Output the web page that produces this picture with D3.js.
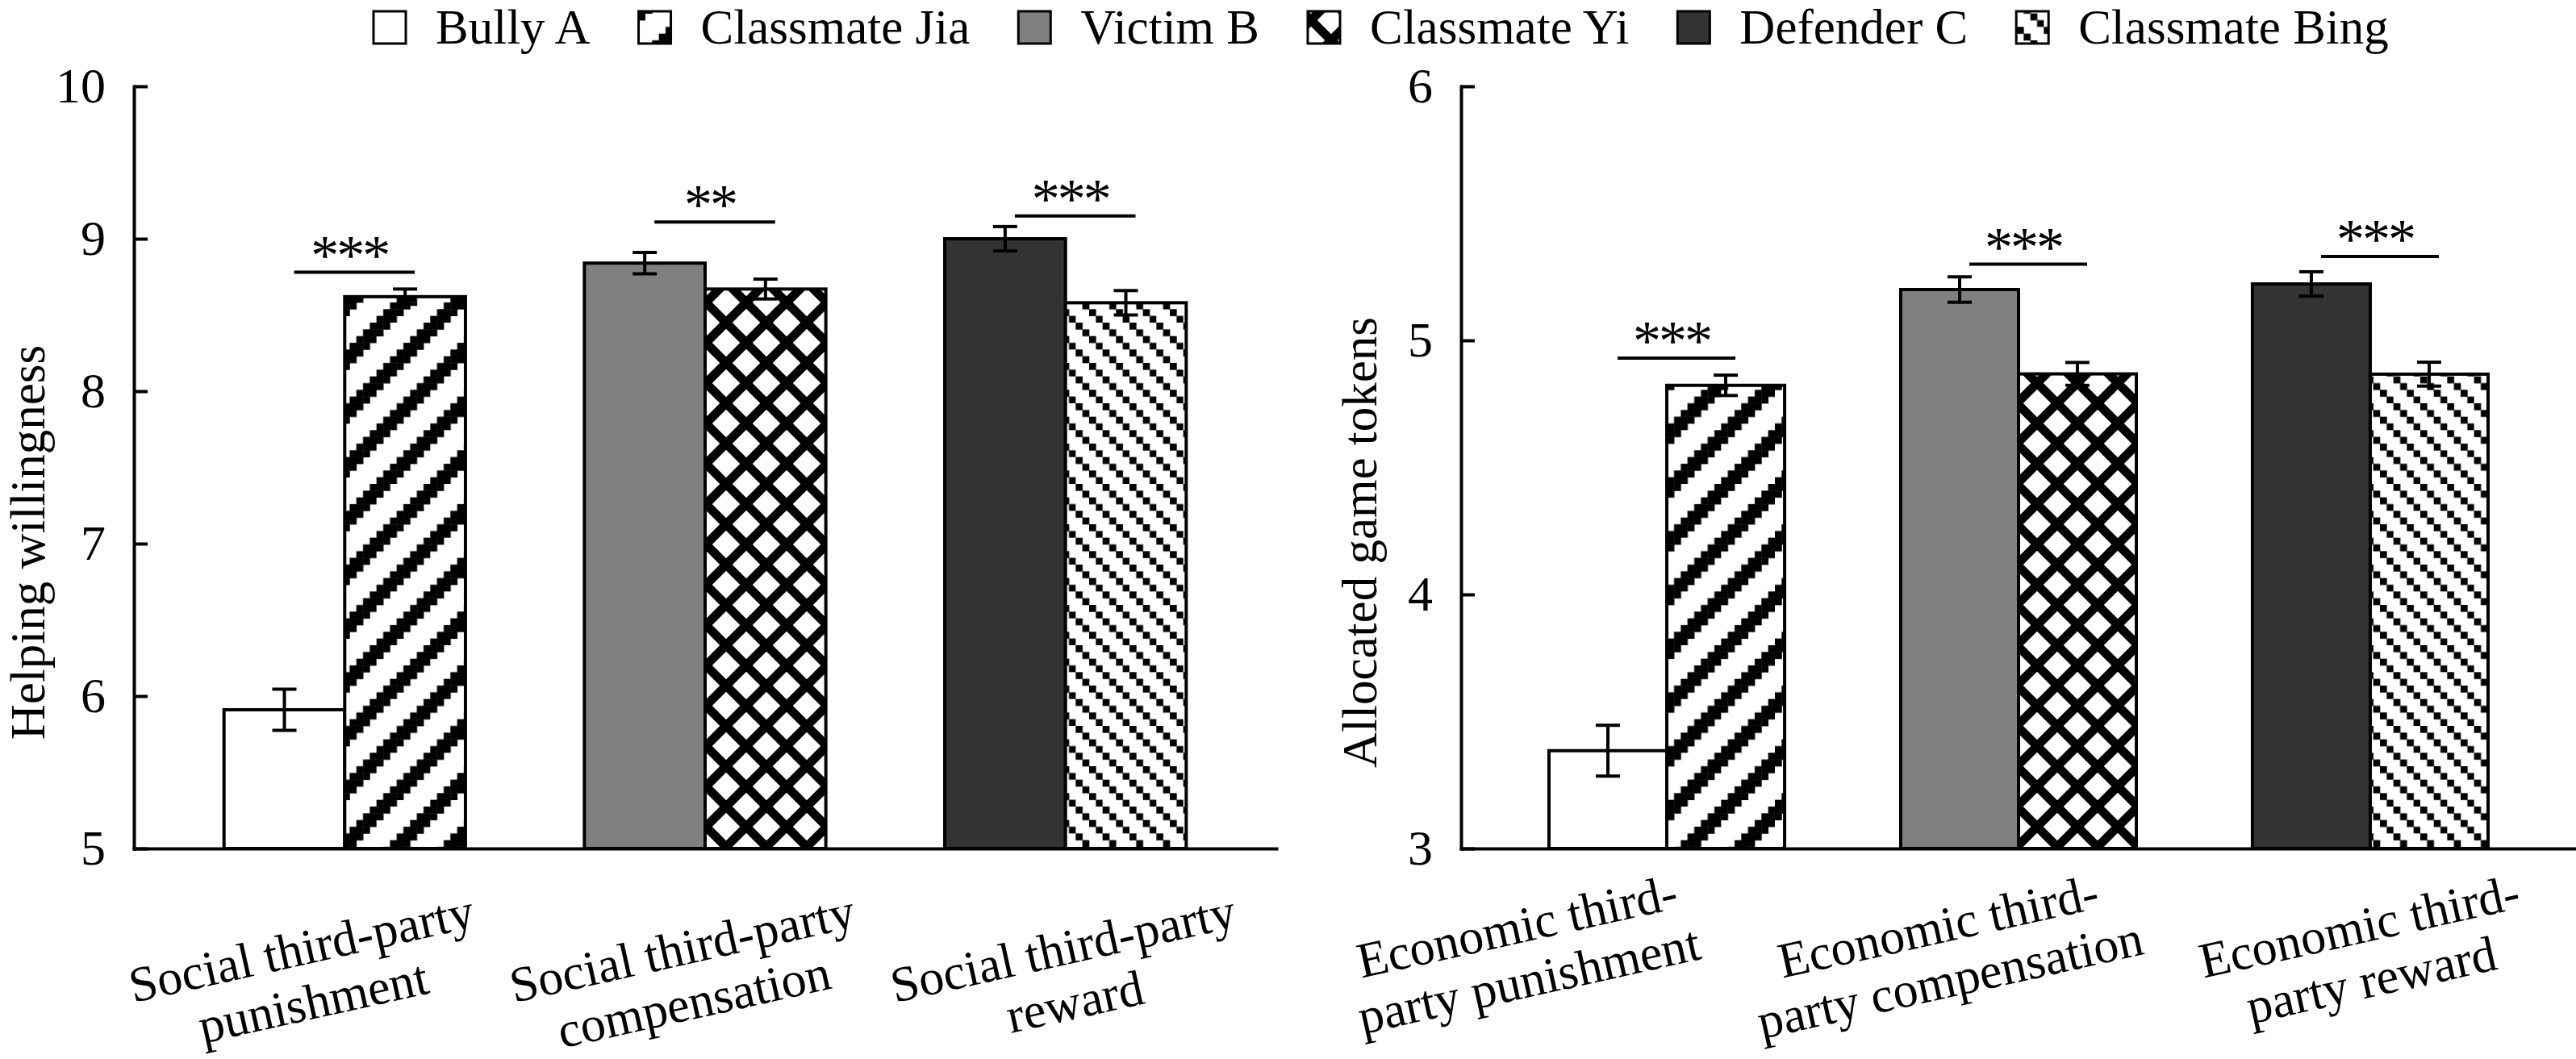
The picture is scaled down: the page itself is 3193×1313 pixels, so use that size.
<!DOCTYPE html>
<html>
<head>
<meta charset="utf-8">
<script src="https://cdn.jsdelivr.net/npm/d3@7"></script>
<style>
body { margin: 0; background: #fff; }
text { font-family: "Times New Roman", "Liberation Serif", serif; fill: #000; }
</style>
</head>
<body>
<svg id="chart" width="3193" height="1313"></svg>
<script>
// legend order
var seriesNames = ["Bully A", "Classmate Jia", "Victim B", "Classmate Yi", "Defender C", "Classmate Bing"];

// left panel: social third-party behaviour
var socialLabels = [["Social third-party", "punishment"], ["Social third-party", "compensation"], ["Social third-party", "reward"]];
var socialTarget = [5.91, 8.84, 9.00];
var socialTargetErr = [0.135, 0.07, 0.08];
var socialClassmate = [8.62, 8.67, 8.58];
var socialClassmateErr = [0.05, 0.065, 0.08];
var socialSig = ["***", "**", "***"];
var socialSigLevel = [8.78, 9.11, 9.15];
var socialTicks = [5, 6, 7, 8, 9, 10];

// right panel: economic third-party behaviour
var econLabels = [["Economic third-", "party punishment"], ["Economic third-", "party compensation"], ["Economic third-", "party reward"]];
var econTarget = [3.385, 5.20, 5.222];
var econTargetErr = [0.10, 0.05, 0.048];
var econClassmate = [4.823, 4.868, 4.867];
var econClassmateErr = [0.04, 0.045, 0.047];
var econSig = ["***", "***", "***"];
var econSigLevel = [4.93, 5.30, 5.33];
var econTicks = [3, 4, 5, 6];

var svg = d3.select("#chart");
svg.append("rect").attr("width", 3193).attr("height", 1313).attr("fill", "#fff");

// ---- hatch patterns (Excel style) ----
var defs = svg.append("defs");
var u = 25 / 3;

// wide upward diagonal
var pj = defs.append("pattern").attr("id", "pat-jia").attr("patternUnits", "userSpaceOnUse")
  .attr("width", 8 * u).attr("height", 8 * u);
pj.append("rect").attr("width", 8 * u).attr("height", 8 * u).attr("fill", "#fff");
for (var r = 0; r < 8; r++) {
  for (var k = 0; k < 3; k++) {
    var c = ((7 - r + k) % 8 + 8) % 8;
    pj.append("rect").attr("x", c * u).attr("y", r * u).attr("width", u + 0.4).attr("height", u + 0.4).attr("fill", "#000");
  }
}

// thick diagonal crosshatch
var py = defs.append("pattern").attr("id", "pat-yi").attr("patternUnits", "userSpaceOnUse")
  .attr("width", 50).attr("height", 50);
py.append("rect").attr("width", 50).attr("height", 50).attr("fill", "#fff");
py.append("path")
  .attr("d", "M-30,-30L80,80M-30,20L30,80M20,-30L80,30M-30,30L30,-30M-30,80L80,-30M20,80L80,20")
  .attr("stroke", "#000").attr("stroke-width", 11).attr("fill", "none");

// light downward diagonal
var pb = defs.append("pattern").attr("id", "pat-bing").attr("patternUnits", "userSpaceOnUse")
  .attr("width", 4 * u).attr("height", 4 * u);
pb.append("rect").attr("width", 4 * u).attr("height", 4 * u).attr("fill", "#fff");
for (var i = 0; i < 4; i++) {
  pb.append("rect").attr("x", i * u).attr("y", i * u).attr("width", u + 0.3).attr("height", u + 0.3).attr("fill", "#000");
}

var fills = {
  "Bully A": "#fff",
  "Classmate Jia": "url(#pat-jia)",
  "Victim B": "#808080",
  "Classmate Yi": "url(#pat-yi)",
  "Defender C": "#333333",
  "Classmate Bing": "url(#pat-bing)"
};
var targetNames = ["Bully A", "Victim B", "Defender C"];
var classmateNames = ["Classmate Jia", "Classmate Yi", "Classmate Bing"];

var plotTop = 107, plotBottom = 1052;

function drawPanel(p) {
  var g = svg.append("g");

  var y = d3.scaleLinear()
    .domain([p.ticks[0], p.ticks[p.ticks.length - 1]])
    .range([plotBottom, plotTop]);

  var x = d3.scaleBand()
    .domain(d3.range(p.labels.length))
    .range([p.left, p.right])
    .paddingInner(0.33)
    .paddingOuter(0.25);

  var xs = d3.scaleBand().domain([0, 1]).range([0, x.bandwidth()]);

  var rows = [];
  p.target.forEach(function(v, i) {
    rows.push({ g: i, s: 0, v: v, e: p.targetErr[i], name: targetNames[i] });
    rows.push({ g: i, s: 1, v: p.classmate[i], e: p.classmateErr[i], name: classmateNames[i] });
  });

  // bars
  g.selectAll("rect.bar").data(rows).enter().append("rect")
    .attr("class", "bar")
    .attr("x", function(d) { return x(d.g) + xs(d.s); })
    .attr("y", function(d) { return y(d.v); })
    .attr("width", xs.bandwidth())
    .attr("height", function(d) { return y(p.ticks[0]) - y(d.v); })
    .attr("fill", function(d) { return fills[d.name]; })
    .attr("stroke", "#000")
    .attr("stroke-width", 4);

  // error bars
  var eb = g.selectAll("g.err").data(rows).enter().append("g")
    .attr("class", "err")
    .attr("transform", function(d) { return "translate(" + (x(d.g) + xs(d.s) + xs.bandwidth() / 2) + ",0)"; });
  eb.append("line")
    .attr("y1", function(d) { return y(d.v - d.e); })
    .attr("y2", function(d) { return y(d.v + d.e); });
  eb.append("line").attr("x1", -15).attr("x2", 15)
    .attr("y1", function(d) { return y(d.v + d.e); })
    .attr("y2", function(d) { return y(d.v + d.e); });
  eb.append("line").attr("x1", -15).attr("x2", 15)
    .attr("y1", function(d) { return y(d.v - d.e); })
    .attr("y2", function(d) { return y(d.v - d.e); });
  eb.selectAll("line").attr("stroke", "#000").attr("stroke-width", 4);

  // significance brackets
  var half = xs.bandwidth() / 2;
  var sg = g.selectAll("g.sig").data(p.sig).enter().append("g").attr("class", "sig");
  sg.append("line")
    .attr("x1", function(d, i) { return x(i) + half + 12; })
    .attr("x2", function(d, i) { return x(i) + xs.bandwidth() + half + 12; })
    .attr("y1", function(d, i) { return y(p.sigLevel[i]); })
    .attr("y2", function(d, i) { return y(p.sigLevel[i]); })
    .attr("stroke", "#000").attr("stroke-width", 4);
  sg.append("text")
    .attr("x", function(d, i) { return x(i) + x.bandwidth() / 2 + 6; })
    .attr("y", function(d, i) { return y(p.sigLevel[i]) + 2; })
    .attr("text-anchor", "middle")
    .attr("font-size", 70)
    .attr("letter-spacing", -3)
    .text(function(d) { return d; });

  // y axis, ticks pointing inward
  var ya = g.append("g")
    .attr("transform", "translate(" + p.left + ",0)")
    .call(d3.axisLeft(y).tickValues(p.ticks).tickFormat(d3.format("d"))
      .tickSizeInner(-17).tickSizeOuter(0).tickPadding(35));
  ya.attr("font-family", null).attr("font-size", 62);
  ya.select(".domain").attr("stroke-width", 4).attr("stroke-linecap", "square");
  ya.selectAll(".tick line").attr("stroke-width", 4);
  ya.selectAll(".tick text").attr("fill", "#000");

  // x axis line only
  var xa = g.append("g")
    .attr("transform", "translate(0," + plotBottom + ")")
    .call(d3.axisBottom(x).tickSize(0).tickSizeOuter(0).tickFormat(""));
  xa.selectAll(".tick").remove();
  xa.select(".domain").attr("stroke-width", 4).attr("stroke-linecap", "square");

  // rotated two-line category labels
  var lx = d3.scalePoint()
    .domain(d3.range(p.labels.length))
    .range([p.left + p.labelInset[0], p.right - p.labelInset[1]]);
  var lab = g.selectAll("text.cat").data(p.labels).enter().append("text")
    .attr("class", "cat")
    .attr("font-size", 62)
    .attr("text-anchor", "middle")
    .attr("transform", function(d, i) { return "translate(" + lx(i) + "," + p.labelY + ") rotate(-12.5)"; });
  lab.selectAll("tspan").data(function(d) { return d; }).enter().append("tspan")
    .attr("x", 0)
    .attr("y", function(d, j) { return j * 68; })
    .text(function(d) { return d; });

  // y axis title
  g.append("text")
    .attr("transform", "translate(" + p.titleX + "," + ((plotTop + plotBottom) / 2 + 93) + ") rotate(-90)")
    .attr("text-anchor", "middle")
    .attr("font-size", 61)
    .text(p.title);
}

drawPanel({
  left: 166, right: 1582,
  labels: socialLabels, target: socialTarget, targetErr: socialTargetErr,
  classmate: socialClassmate, classmateErr: socialClassmateErr,
  sig: socialSig, sigLevel: socialSigLevel, ticks: socialTicks,
  labelInset: [212, 260], labelY: 1196,
  title: "Helping willingness", titleX: 55
});

drawPanel({
  left: 1811, right: 3193,
  labels: econLabels, target: econTarget, targetErr: econTargetErr,
  classmate: econClassmate, classmateErr: econClassmateErr,
  sig: econSig, sigLevel: econSigLevel, ticks: econTicks,
  labelInset: [74, 264], labelY: 1169,
  title: "Allocated game tokens", titleX: 1706
});

// legend across the top
var legend = svg.append("g");
var lxPos = 463;
seriesNames.forEach(function(name) {
  legend.append("rect")
    .attr("x", lxPos).attr("y", 14).attr("width", 40).attr("height", 40)
    .attr("fill", fills[name]).attr("stroke", "#000").attr("stroke-width", 3);
  var t = legend.append("text")
    .attr("x", lxPos + 77).attr("y", 54)
    .attr("font-size", 61)
    .text(name);
  lxPos = lxPos + 77 + t.node().getComputedTextLength() + 60;
});
</script>
</body>
</html>
